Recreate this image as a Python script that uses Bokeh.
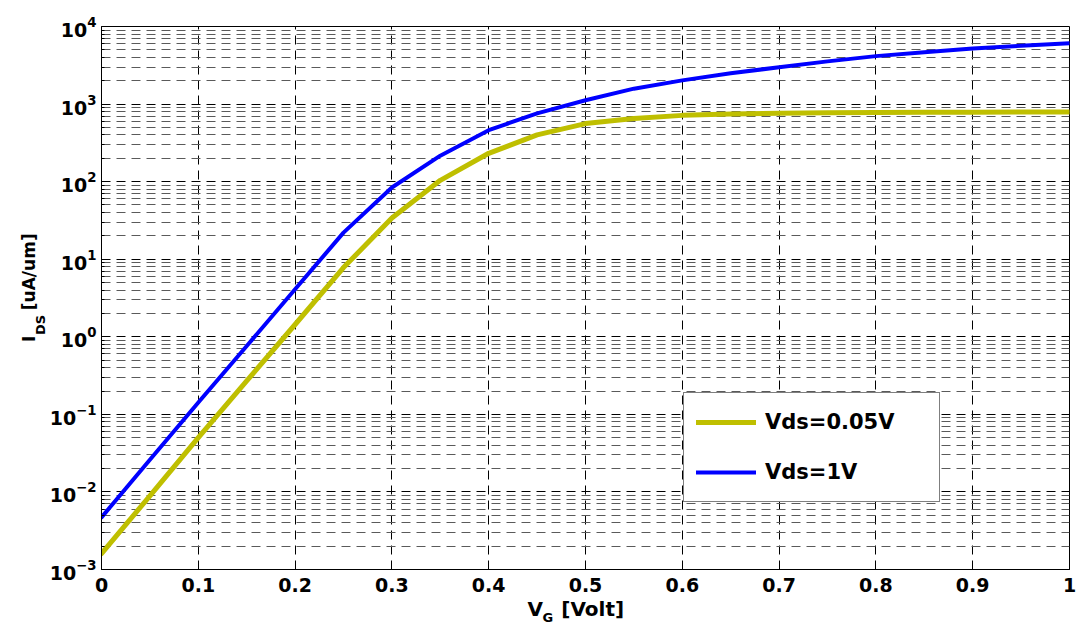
import math
from bokeh.plotting import figure
from bokeh.models import (FixedTicker, CustomJSTickFormatter, LogTickFormatter,
                          Label, Legend, LegendItem, Range1d)
from bokeh.embed import file_html
from bokeh.resources import INLINE

# ---------------- data ----------------
vg = [0.0, 0.05, 0.1, 0.15, 0.2, 0.25, 0.3, 0.35, 0.4, 0.45, 0.5,
      0.55, 0.6, 0.65, 0.7, 0.75, 0.8, 0.85, 0.9, 0.95, 1.0]
ids_vds_005 = [0.0016, 0.0089, 0.05, 0.27, 1.44, 7.8, 34, 104, 232, 400, 560,
               650, 715, 745, 762, 772, 778, 783, 786, 788, 790]
ids_vds_1 = [0.0047, 0.026, 0.142, 0.76, 4.1, 22, 84, 216, 460, 760, 1120,
             1580, 2020, 2500, 2980, 3550, 4150, 4650, 5200, 5650, 6100]
series_labels = ["Vds=0.05V", "Vds=1V"]
series_colors = ["#BFBF00", "#0000FF"]

x_ticks = [0.0, 0.1, 0.2, 0.3, 0.4, 0.5, 0.6, 0.7, 0.8, 0.9, 1.0]
y_exponents = [-3, -2, -1, 0, 1, 2, 3, 4]
y_minor_mantissas = [2, 3, 4, 5, 6, 7, 8, 9]
x_label_main = "V"
x_label_sub = "G"
x_label_unit = "[Volt]"
y_label_main = "I"
y_label_sub = "DS"
y_label_unit = "[uA/um]"

FONT = "DejaVu Sans"

y_major = [10.0 ** k for k in y_exponents]
y_minor = [m * 10.0 ** k for k in y_exponents[:-1] for m in y_minor_mantissas]

p = figure(width=1076, height=631, title=None,
           x_range=Range1d(x_ticks[0], x_ticks[-1]),
           y_range=Range1d(y_major[0], y_major[-1]),
           y_axis_type="log", output_backend="svg", toolbar_location=None,
           min_border_left=101, min_border_right=7,
           min_border_top=26, min_border_bottom=62)
p.background_fill_color = "white"
p.border_fill_color = "white"
p.outline_line_color = "black"
p.outline_line_width = 1
p.outline_line_alpha = 1

# ---- grids ----
p.xgrid.ticker = FixedTicker(ticks=x_ticks)
p.xgrid.grid_line_color = "black"
p.xgrid.grid_line_dash = "9 6"
p.xgrid.grid_line_width = 1
p.ygrid.ticker = FixedTicker(ticks=y_major, minor_ticks=y_minor)
p.ygrid.grid_line_color = "black"
p.ygrid.grid_line_dash = "9 6"
p.ygrid.grid_line_width = 1
p.ygrid.minor_grid_line_color = "#5a5a5a"
p.ygrid.minor_grid_line_dash = "9 6"
p.ygrid.minor_grid_line_width = 1

# ---- axes ----
xa = p.xaxis[0]
xa.ticker = FixedTicker(ticks=x_ticks)
xa.formatter = CustomJSTickFormatter(code="return tick.toFixed(1).replace(/\\.0$/, '');")
xa.axis_line_color = "black"
xa.major_tick_line_color = "black"
xa.major_tick_in = 5
xa.major_tick_out = 0
xa.minor_tick_line_color = None
xa.major_label_text_font = FONT
xa.major_label_text_font_style = "bold"
xa.major_label_text_font_size = "19px"
xa.major_label_text_color = "black"
xa.major_label_standoff = 8

ya = p.yaxis[0]
ya.ticker = FixedTicker(ticks=y_major, minor_ticks=y_minor)
ya.formatter = LogTickFormatter()
ya.axis_line_color = "black"
ya.major_tick_line_color = "black"
ya.major_tick_in = 5
ya.major_tick_out = 0
ya.minor_tick_line_color = "black"
ya.minor_tick_in = 3
ya.minor_tick_out = 0
ya.major_label_text_font = FONT
ya.major_label_text_font_style = "bold"
ya.major_label_text_font_size = "19px"
ya.major_label_text_color = "black"
ya.major_label_standoff = 5

# ---- curves ----
r1 = p.line(vg, ids_vds_005, line_color=series_colors[0], line_width=5,
            line_join="round", line_cap="round")
r2 = p.line(vg, ids_vds_1, line_color=series_colors[1], line_width=4,
            line_join="round", line_cap="round")

legend = Legend(items=[LegendItem(label=series_labels[0], renderers=[r1]),
                       LegendItem(label=series_labels[1], renderers=[r2])],
                location=(582, 67), margin=0, padding=12, spacing=16,
                glyph_width=60, glyph_height=34, label_height=34,
                label_width=162, label_standoff=9,
                label_text_font=FONT, label_text_font_style="bold",
                label_text_font_size="21px", label_text_color="black",
                border_line_color="black", border_line_width=1,
                background_fill_color="white", background_fill_alpha=1)
p.add_layout(legend)


def lab(text, x, y, dx, dy, size, angle=0.0):
    return Label(x=x, y=y, text=text, x_offset=dx, y_offset=dy, angle=angle,
                 text_align="left", text_baseline="alphabetic",
                 text_font=FONT, text_font_style="bold",
                 text_font_size=size, text_color="black")


# ---- x axis label: V_G [Volt] ----
xmid = (x_ticks[0] + x_ticks[-1]) / 2
p.add_layout(lab(x_label_main + "\u2002\u2006\u2005" + x_label_unit,
                 xmid, y_major[0], -58, -39, "20px"), "below")
p.add_layout(lab(x_label_sub, xmid, y_major[0], -43, -48, "13px"), "above")

# ---- y axis label (rotated): I_DS [uA/um] ----
ymid = 10.0 ** ((y_exponents[0] + y_exponents[-1]) / 2)
p.add_layout(lab(y_label_main + "\u2003\u2002" + y_label_unit,
                 x_ticks[0], ymid, -73, -44, "17px", math.pi / 2), "left")
p.add_layout(lab(y_label_sub, x_ticks[0], ymid, -61, -37, "13px", math.pi / 2), "left")

open("out.html", "w").write(file_html(p, INLINE))
